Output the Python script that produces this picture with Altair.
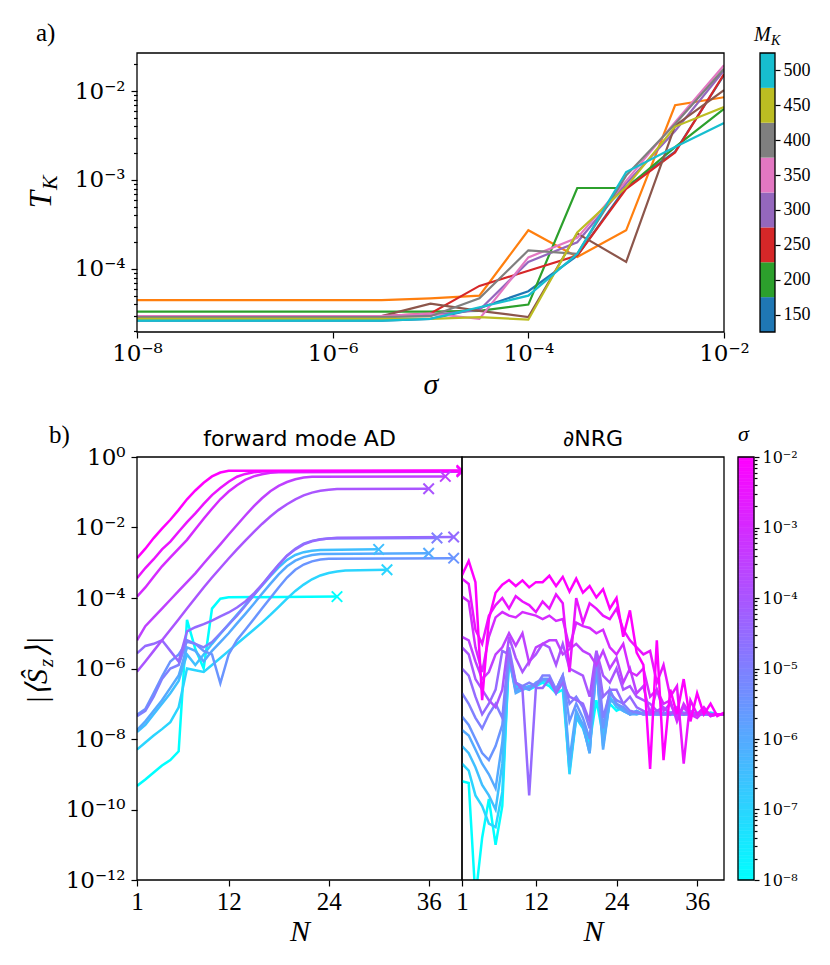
import altair as alt
import numpy as np
import pandas as pd

SERIF = "Liberation Serif"
SUPFONT = "DejaVu Serif"
SANS = "DejaVu Sans"

# ---------------- panel a : T_K versus sigma ----------------
SIGMA_EXP_A = [-8.0, -7.5, -7.0, -6.5, -6.0, -5.5, -5.0, -4.5, -4.0, -3.5, -3.0, -2.5, -2.0]
LINE_IDS_A = ["C0", "C1", "C2", "C3", "C4", "C5", "C6", "C7", "C8", "C9"]
TAB10 = ["#1f77b4", "#ff7f0e", "#2ca02c", "#d62728", "#9467bd",
         "#8c564b", "#e377c2", "#7f7f7f", "#bcbd22", "#17becf"]
LOG_TK = {
    "C0": [-4.58, -4.58, -4.58, -4.58, -4.58, -4.58, -4.56, -4.44, -4.25, -3.85, -3.08, -2.68, -1.82],
    "C1": [-4.35, -4.35, -4.35, -4.35, -4.35, -4.35, -4.33, -4.30, -3.565, -3.865, -3.565, -2.16, -2.07],
    "C2": [-4.48, -4.48, -4.48, -4.48, -4.48, -4.48, -4.48, -4.47, -4.40, -3.09, -3.09, -2.63, -2.20],
    "C3": [-4.53, -4.53, -4.53, -4.53, -4.53, -4.53, -4.50, -4.19, -4.02, -3.85, -3.10, -2.69, -1.81],
    "C4": [-4.53, -4.53, -4.53, -4.53, -4.53, -4.53, -4.52, -4.46, -3.92, -3.70, -3.04, -2.45, -1.77],
    "C5": [-4.53, -4.53, -4.53, -4.53, -4.53, -4.53, -4.39, -4.47, -4.54, -3.60, -3.92, -2.39, -1.99],
    "C6": [-4.53, -4.53, -4.53, -4.53, -4.53, -4.53, -4.50, -4.56, -3.87, -3.65, -3.01, -2.35, -1.71],
    "C7": [-4.54, -4.54, -4.54, -4.54, -4.54, -4.54, -4.53, -4.33, -3.79, -3.83, -2.95, -2.37, -1.75],
    "C8": [-4.56, -4.56, -4.56, -4.56, -4.56, -4.56, -4.56, -4.54, -4.57, -3.59, -3.08, -2.40, -2.18],
    "C9": [-4.58, -4.58, -4.58, -4.58, -4.58, -4.58, -4.56, -4.43, -4.30, -3.83, -2.91, -2.63, -2.36],
}
MK_VALUES = [150, 200, 250, 300, 350, 400, 450, 500]
MK_COLORS = ["#1f77b4", "#2ca02c", "#d62728", "#9467bd", "#e377c2", "#7f7f7f", "#bcbd22", "#17becf"]

# ---------------- panel b : |<S_z>| versus N ----------------
SIGMAS_B = [-8.0, -7.0, -6.5, -6.0, -5.5, -5.0, -4.5, -4.0, -3.5, -3.0, -2.5, -2.0]
# forward mode AD: log10 |<S_z>| for N = 1, 2, ... ; the line then runs flat to the "x" end point
AD_LOG_SZ = {
    -2.0: [-2.87, -2.60, -2.30, -2.03, -1.78, -1.50, -1.20, -0.95, -0.73, -0.55, -0.44, -0.39],
    -2.5: [-3.44, -3.15, -2.90, -2.62, -2.40, -2.12, -1.85, -1.60, -1.33, -1.08, -0.88, -0.70, -0.56, -0.48, -0.43, -0.41],
    -3.0: [-3.96, -3.70, -3.40, -3.10, -2.85, -2.60, -2.35, -2.05, -1.75, -1.47, -1.20, -0.98, -0.80, -0.65, -0.55, -0.49, -0.45, -0.43],
    -3.5: [-5.20, -4.80, -4.55, -4.30, -4.05, -3.80, -3.55, -3.30, -3.02, -2.75, -2.48, -2.20, -1.93, -1.66, -1.40, -1.17, -0.97, -0.82, -0.71, -0.63, -0.58, -0.56],
    -4.0: [-6.09, -5.80, -5.50, -5.20, -4.90, -4.60, -4.30, -4.00, -3.70, -3.42, -3.15, -2.88, -2.62, -2.37, -2.13, -1.90, -1.69, -1.50, -1.34, -1.20, -1.09, -1.01, -0.96, -0.93, -0.91],
    -4.5: [-5.57, -5.36, -5.30, -5.20, -5.50, -5.80, -4.95, -4.83, -4.74, -4.64, -4.52, -4.41, -4.27, -4.10, -3.88, -3.62, -3.35, -3.06, -2.80, -2.62, -2.48, -2.39, -2.34, -2.31, -2.29],
    -5.0: [-7.35, -7.20, -6.80, -6.30, -6.00, -5.90, -5.20, -5.30, -5.40, -5.25, -5.00, -4.75, -4.50, -4.22, -3.93, -3.63, -3.33, -3.05, -2.80, -2.60, -2.46, -2.38, -2.33, -2.31],
    -5.5: [-7.31, -7.15, -6.70, -6.23, -5.80, -5.60, -5.24, -5.30, -5.50, -5.60, -6.42, -5.60, -5.19, -4.90, -4.60, -4.30, -4.00, -3.70, -3.42, -3.20, -3.05, -2.96, -2.91, -2.89],
    -6.0: [-7.75, -7.50, -7.20, -6.90, -6.55, -6.20, -5.40, -5.50, -5.80, -5.50, -5.25, -5.00, -4.72, -4.45, -4.17, -3.88, -3.60, -3.33, -3.10, -2.94, -2.84, -2.78, -2.75],
    -6.5: [-7.80, -7.60, -7.30, -7.00, -6.70, -6.35, -5.60, -5.90, -5.60, -5.30, -5.02, -4.75, -4.47, -4.20, -3.92, -3.65, -3.38, -3.13, -2.92, -2.78, -2.70, -2.66, -2.64],
    -7.0: [-8.30, -8.10, -7.90, -7.72, -7.52, -7.10, -6.00, -6.05, -6.10, -5.90, -5.70, -5.50, -5.30, -5.10, -4.90, -4.70, -4.48, -4.25, -4.02, -3.80, -3.62, -3.47, -3.36, -3.29, -3.25, -3.22],
    -8.0: [-9.33, -9.15, -8.95, -8.75, -8.60, -8.35, -4.62, -5.45, -6.00, -4.30, -4.02, -3.98],
}
AD_END_N = {-2.0: 40, -2.5: 40, -3.0: 40, -3.5: 38, -4.0: 36, -4.5: 39, -5.0: 37,
            -5.5: 39, -6.0: 36, -6.5: 30, -7.0: 31, -8.0: 25}
AD_END_LOG = {-2.0: -0.38, -2.5: -0.40, -3.0: -0.42, -3.5: -0.55, -4.0: -0.90, -4.5: -2.27, -5.0: -2.30,
              -5.5: -2.87, -6.0: -2.73, -6.5: -2.62, -7.0: -3.20, -8.0: -3.96}
# dNRG: log10 |<S_z>| for N = 1 .. 40
NRG_LOG_SZ = {
    -8.0: [-9.20, -9.25, -12.5, -10.8, -9.70, -11.0, -9.90, -5.60, -6.50, -6.55, -6.60, -6.50, -6.40, -6.50, -6.70, -6.60, -8.90, -7.30, -7.60, -8.10,
           -6.90, -7.90, -7.00, -7.20, -7.10, -7.30, -7.20, -7.30, -7.25, -7.30, -7.30, -7.25, -7.30, -7.30, -7.30, -7.25, -7.30, -7.30, -7.30, -7.30],
    -7.0: [-8.70, -8.90, -9.60, -9.90, -10.4, -10.5, -9.50, -5.70, -6.60, -6.55, -6.50, -6.45, -6.35, -6.40, -6.60, -6.30, -9.00, -7.40, -7.70, -8.30,
           -5.80, -8.20, -6.90, -7.00, -7.20, -7.25, -7.30, -7.25, -7.30, -7.30, -7.30, -7.30, -7.25, -7.30, -7.30, -7.30, -7.30, -7.25, -7.30, -7.30],
    -6.5: [-8.20, -8.40, -8.80, -9.30, -9.60, -10.0, -8.70, -5.65, -6.65, -6.60, -6.55, -6.45, -6.30, -6.35, -6.65, -6.30, -8.80, -7.40, -7.60, -8.40,
           -5.90, -8.00, -6.80, -7.10, -7.20, -7.30, -7.25, -7.30, -7.30, -7.25, -7.30, -7.30, -7.30, -7.30, -7.25, -7.30, -7.30, -7.30, -7.30, -7.30],
    -6.0: [-7.74, -7.90, -8.30, -8.70, -9.00, -9.40, -8.10, -5.70, -6.70, -6.60, -6.50, -6.50, -6.30, -6.30, -6.70, -6.25, -8.60, -7.20, -7.60, -8.40,
           -5.90, -8.30, -6.90, -7.00, -7.20, -7.30, -7.30, -7.25, -7.30, -7.30, -7.30, -7.30, -7.30, -7.25, -7.30, -7.30, -7.30, -7.30, -7.30, -7.30],
    -5.5: [-7.36, -7.60, -8.00, -8.40, -8.60, -8.20, -7.60, -5.60, -6.60, -6.50, -6.60, -6.40, -6.30, -6.30, -6.60, -6.20, -7.50, -7.00, -7.40, -8.00,
           -5.70, -7.70, -6.60, -7.00, -7.10, -7.30, -7.20, -7.30, -7.30, -7.30, -7.25, -7.30, -7.30, -7.30, -7.30, -7.30, -7.25, -7.30, -7.30, -7.30],
    -5.0: [-6.70, -7.00, -7.40, -7.70, -7.30, -7.00, -7.40, -5.40, -6.40, -6.50, -6.40, -6.50, -6.20, -6.20, -6.60, -6.20, -7.00, -6.80, -7.10, -7.70,
           -5.60, -7.40, -6.70, -6.90, -7.00, -7.20, -7.25, -7.30, -7.20, -7.30, -7.30, -7.25, -7.30, -7.30, -7.30, -7.30, -7.30, -7.30, -7.30, -7.30],
    -4.5: [-6.00, -6.20, -6.80, -7.30, -7.00, -6.60, -5.50, -5.60, -6.40, -6.60, -9.60, -6.55, -6.55, -6.30, -6.70, -6.40, -6.80, -6.90, -7.00, -7.50,
           -5.50, -6.80, -6.60, -6.60, -7.00, -6.80, -7.10, -7.20, -7.30, -7.20, -7.30, -7.30, -7.20, -7.30, -7.25, -7.30, -7.30, -7.30, -7.30, -7.30],
    -4.0: [-5.40, -5.60, -6.30, -6.60, -6.90, -7.10, -6.60, -5.10, -5.70, -6.10, -5.80, -5.60, -5.30, -5.40, -5.90, -5.30, -6.00, -6.10, -6.20, -6.80,
           -5.50, -6.20, -6.40, -6.00, -6.60, -6.50, -6.80, -6.90, -7.00, -7.20, -7.10, -7.30, -7.10, -7.30, -7.20, -7.30, -7.25, -7.30, -7.30, -7.30],
    -3.5: [-5.10, -5.20, -5.80, -6.30, -6.10, -5.60, -5.40, -5.00, -5.35, -5.00, -5.85, -5.40, -5.30, -5.20, -5.20, -5.60, -5.45, -5.30, -5.50, -5.60,
           -5.90, -5.50, -6.00, -5.70, -6.40, -6.00, -6.70, -6.50, -7.30, -6.60, -7.20, -7.00, -7.40, -7.10, -7.35, -7.30, -7.20, -7.35, -7.30, -7.30],
    -3.0: [-3.96, -4.10, -5.40, -6.10, -5.10, -4.55, -4.40, -4.50, -4.55, -4.40, -4.45, -4.50, -4.60, -4.50, -4.65, -4.60, -5.40, -4.70, -4.80, -4.85,
           -5.00, -4.90, -5.40, -5.60, -5.30, -6.10, -6.20, -6.00, -6.80, -6.60, -7.00, -6.90, -7.50, -7.00, -7.30, -7.40, -7.20, -7.30, -7.30, -7.30],
    -2.5: [-3.45, -3.60, -4.90, -5.30, -4.50, -4.20, -4.00, -4.30, -3.95, -4.10, -4.20, -4.40, -4.10, -4.30, -3.90, -4.15, -6.10, -4.00, -4.70, -4.15,
           -4.30, -4.50, -4.60, -4.30, -4.90, -5.20, -5.40, -5.60, -5.50, -6.40, -5.90, -6.80, -6.50, -8.70, -6.90, -7.30, -7.10, -7.35, -7.30, -7.30],
    -2.0: [-3.35, -2.95, -3.55, -6.90, -4.60, -3.85, -3.62, -3.49, -3.66, -3.50, -3.70, -3.55, -3.55, -3.37, -3.66, -3.40, -3.82, -3.45, -3.85, -3.66,
           -3.98, -3.75, -4.30, -4.00, -5.10, -4.35, -5.55, -5.90, -8.85, -5.20, -8.60, -6.60, -7.30, -6.30, -7.50, -6.70, -7.30, -7.00, -7.35, -7.25],
}
N_TICKS = [1, 12, 24, 36]

# ---------------- helpers ----------------
SUP = str.maketrans("-0123456789", "⁻⁰¹²³⁴⁵⁶⁷⁸⁹")


def log_label_expr(exps):
    expr = "''"
    for e in exps:
        lab = "10" + str(e).translate(SUP)
        expr = f"abs(log(datum.value)/LN10 - ({e})) < 0.01 ? '{lab}' : " + expr
    return expr


MAJOR_TEST = "abs(log(datum.value)/LN10 - round(log(datum.value)/LN10)) < 0.001"


def axis(**kw):
    base = dict(domain=False, grid=False, tickColor="black", tickWidth=1.2, labelColor="black",
                labelFont=SERIF, titleColor="black", titleFont=SERIF, titleFontStyle="italic",
                titleFontWeight="normal", labelFlush=False, labelOverlap=False, labelBound=False)
    base.update(kw)
    return alt.Axis(**base)


def minor_list(lo_exp, hi_exp):
    out = []
    for k in range(lo_exp, hi_exp):
        for m in range(2, 10):
            out.append(m * 10.0 ** k)
    return out


one = pd.DataFrame({"k": [0]})
X_PATH = "M -1 -1 L 1 1 M -1 1 L 1 -1"
SIGMA_SCALE = alt.Scale(type="log", domain=[1e-8, 1e-2], range=["#00ffff", "#ff00ff"], interpolate="rgb")


def anchor(x, y):
    return alt.Chart(one).mark_rule(color="white", strokeWidth=1).encode(
        x=alt.value(x), x2=alt.value(x + 1), y=alt.value(y))


def frame(x0, x1, h):
    return alt.Chart(one).mark_rect(filled=False, stroke="black", strokeWidth=1.3, clip=False).encode(
        x=alt.value(x0), x2=alt.value(x1), y=alt.value(0), y2=alt.value(h))


def txt(s, x, y, size, style="normal", angle=0, align="left", baseline="alphabetic", font=SERIF):
    return alt.Chart(pd.DataFrame({"t": [s]})).mark_text(
        font=font, fontSize=size, fontStyle=style, angle=angle, align=align, baseline=baseline,
        color="black").encode(text="t:N", x=alt.value(x), y=alt.value(y))


# ---------------- build panel a ----------------
WA, HA = 587, 279
rows = []
for sid in LINE_IDS_A:
    for e, v in zip(SIGMA_EXP_A, LOG_TK[sid]):
        rows.append({"series": sid, "sigma": 10.0 ** e, "TK": 10.0 ** v})
df_a = pd.DataFrame(rows)

ya_major = [1e-4, 1e-3, 1e-2]
ya_vals = ya_major + minor_list(-5, -2) + [2e-2]
lines_a = alt.Chart(df_a).mark_line(strokeWidth=2.2, clip=True).encode(
    x=alt.X("sigma:Q", scale=alt.Scale(type="log", domain=[1e-8, 1e-2], nice=False),
            axis=axis(values=[1e-8, 1e-6, 1e-4, 1e-2], labelExpr=log_label_expr([-8, -6, -4, -2]),
                      labelFont=SUPFONT, tickSize=6, labelFontSize=23, labelPadding=4, title="σ",
                      titleFontSize=30, titlePadding=4)),
    y=alt.Y("TK:Q", scale=alt.Scale(type="log", domain=[10 ** -4.708, 10 ** -1.573], nice=False),
            axis=axis(values=ya_vals, labelExpr=log_label_expr([-4, -3, -2]), labelFont=SUPFONT,
                      tickSize={"condition": {"test": MAJOR_TEST, "value": 6}, "value": 3.5},
                      labelFontSize=23, labelPadding=6, title=None)),
    color=alt.Color("series:N", scale=alt.Scale(domain=LINE_IDS_A, range=TAB10), legend=None),
    detail="series:N",
)
panel_a = alt.layer(
    lines_a,
    frame(0, WA, HA),
    txt("a)", -101, -12, 25),
    txt("T", -86, 138, 31, style="italic", angle=270, align="right"),
    txt("K", -80, 137, 22, style="italic", angle=270, align="left"),
    anchor(-120, -36),
    anchor(-120, HA + 80),
).properties(width=WA, height=HA)

# colorbar a
df_mk = pd.DataFrame({"mk": MK_VALUES, "lo": [m - 25 for m in MK_VALUES], "hi": [m + 25 for m in MK_VALUES]})
cbar_a = alt.layer(
    alt.Chart(df_mk).mark_rect().encode(
        y=alt.Y("lo:Q", scale=alt.Scale(domain=[125, 525], nice=False, zero=False),
                axis=axis(orient="right", values=MK_VALUES, tickSize=5, labelFontSize=18,
                          labelPadding=3, title=None)),
        y2="hi:Q",
        x=alt.value(0), x2=alt.value(15),
        color=alt.Color("mk:O", scale=alt.Scale(domain=MK_VALUES, range=MK_COLORS), legend=None),
    ),
    frame(0, 15, HA),
    txt("M", -6, -12, 20, style="italic"),
    txt("K", 11, -8, 14, style="italic"),
).properties(width=15, height=HA)

row1 = alt.hconcat(panel_a, cbar_a, spacing=36, bounds="flush").resolve_scale(color="independent")

# ---------------- build panel b ----------------
WL, WR, HB = 325, 262, 423
ad_rows, end_rows = [], []
for s in SIGMAS_B:
    vals = AD_LOG_SZ[s]
    for i, v in enumerate(vals):
        ad_rows.append({"sig": 10.0 ** s, "N": i + 1, "S": 10.0 ** v})
    ad_rows.append({"sig": 10.0 ** s, "N": AD_END_N[s], "S": 10.0 ** AD_END_LOG[s]})
    end_rows.append({"sig": 10.0 ** s, "N": AD_END_N[s], "S": 10.0 ** AD_END_LOG[s]})
df_ad = pd.DataFrame(ad_rows)
df_end = pd.DataFrame(end_rows)

nrg_rows = []
for s in SIGMAS_B:
    for i, v in enumerate(NRG_LOG_SZ[s]):
        nrg_rows.append({"sig": 10.0 ** s, "N": i + 1, "S": 10.0 ** v})
df_nrg = pd.DataFrame(nrg_rows)

X_B = alt.X("N:Q", scale=alt.Scale(domain=[1, 40], nice=False, zero=False),
            axis=axis(values=N_TICKS, tickSize=6, labelFontSize=25, labelPadding=3, title="N",
                      titleFontSize=30, titlePadding=2))
Y_SCALE_B = alt.Scale(type="log", domain=[1e-12, 1], nice=False)
Y_B = alt.Y("S:Q", scale=Y_SCALE_B,
            axis=axis(values=[1, 1e-2, 1e-4, 1e-6, 1e-8, 1e-10, 1e-12],
                      labelExpr=log_label_expr([0, -2, -4, -6, -8, -10, -12]), labelFont=SUPFONT,
                      tickSize=6, labelFontSize=23, labelPadding=6, title=None))
COLOR_B = alt.Color("sig:Q", scale=SIGMA_SCALE, legend=None)

lines_left = alt.Chart(df_ad).mark_line(strokeWidth=2.5, clip=True).encode(
    x=X_B, y=Y_B, color=COLOR_B, detail="sig:N")
marks_left = alt.Chart(df_end).mark_point(shape=X_PATH, filled=False, size=110, strokeWidth=2, clip=True,
                                          opacity=1).encode(x=X_B, y=Y_B, color=COLOR_B)
left = alt.layer(
    lines_left, marks_left,
    frame(0, WL, HB),
    txt("forward mode AD", WL / 2, -11, 22, align="center", font=SANS),
    txt("b)", -88, -14, 25),
    txt("|⟨Ŝ", -90, 212, 30, style="italic", angle=270, align="right"),
    txt("z", -84, 206, 21, style="italic", angle=270, align="center"),
    txt("⟩|", -90, 200, 30, style="italic", angle=270, align="left"),
    anchor(-120, -40),
).properties(width=WL, height=HB)

lines_right = alt.Chart(df_nrg).mark_line(strokeWidth=2.5, clip=True).encode(
    x=X_B, y=alt.Y("S:Q", scale=Y_SCALE_B, axis=None), color=COLOR_B, detail="sig:N")
right = alt.layer(
    lines_right,
    frame(0, WR, HB),
    txt("∂NRG", WR / 2, -11, 22, align="center", font=SANS),
).properties(width=WR, height=HB)

# colorbar b (sits 14 px right of the panel)
edges = 10.0 ** np.linspace(-8, -2, 121)
df_cb = pd.DataFrame({"lo": edges[:-1], "hi": edges[1:], "mid": np.sqrt(edges[:-1] * edges[1:])})
cb_vals = [1e-8, 1e-7, 1e-6, 1e-5, 1e-4, 1e-3, 1e-2] + minor_list(-8, -2)
cbar_b = alt.layer(
    alt.Chart(df_cb).mark_rect(strokeWidth=0.6).encode(
        y=alt.Y("lo:Q", scale=alt.Scale(type="log", domain=[1e-8, 1e-2], nice=False),
                axis=axis(orient="right", values=cb_vals, labelExpr=log_label_expr([-8, -7, -6, -5, -4, -3, -2]),
                          labelFont=SUPFONT,
                          tickSize={"condition": {"test": MAJOR_TEST, "value": 5}, "value": 3},
                          labelFontSize=16, labelPadding=3, title=None)),
        y2="hi:Q",
        x=alt.value(14), x2=alt.value(30),
        color=alt.Color("mid:Q", scale=SIGMA_SCALE, legend=None),
        stroke=alt.Stroke("mid:Q", scale=SIGMA_SCALE, legend=None),
    ),
    frame(14, 30, HB),
    txt("σ", 14, -16, 22, style="italic"),
).properties(width=30, height=HB)

row2 = alt.hconcat(left, right, cbar_b, spacing=0, bounds="flush").resolve_scale(color="independent")

chart = alt.vconcat(row1, row2, spacing=3).resolve_scale(color="independent").properties(
    padding={"left": 8, "top": 8, "right": 5, "bottom": 5}, background="white"
).configure_view(strokeOpacity=0)

chart.save("out.html", embed_options={"renderer": "svg", "actions": False})
